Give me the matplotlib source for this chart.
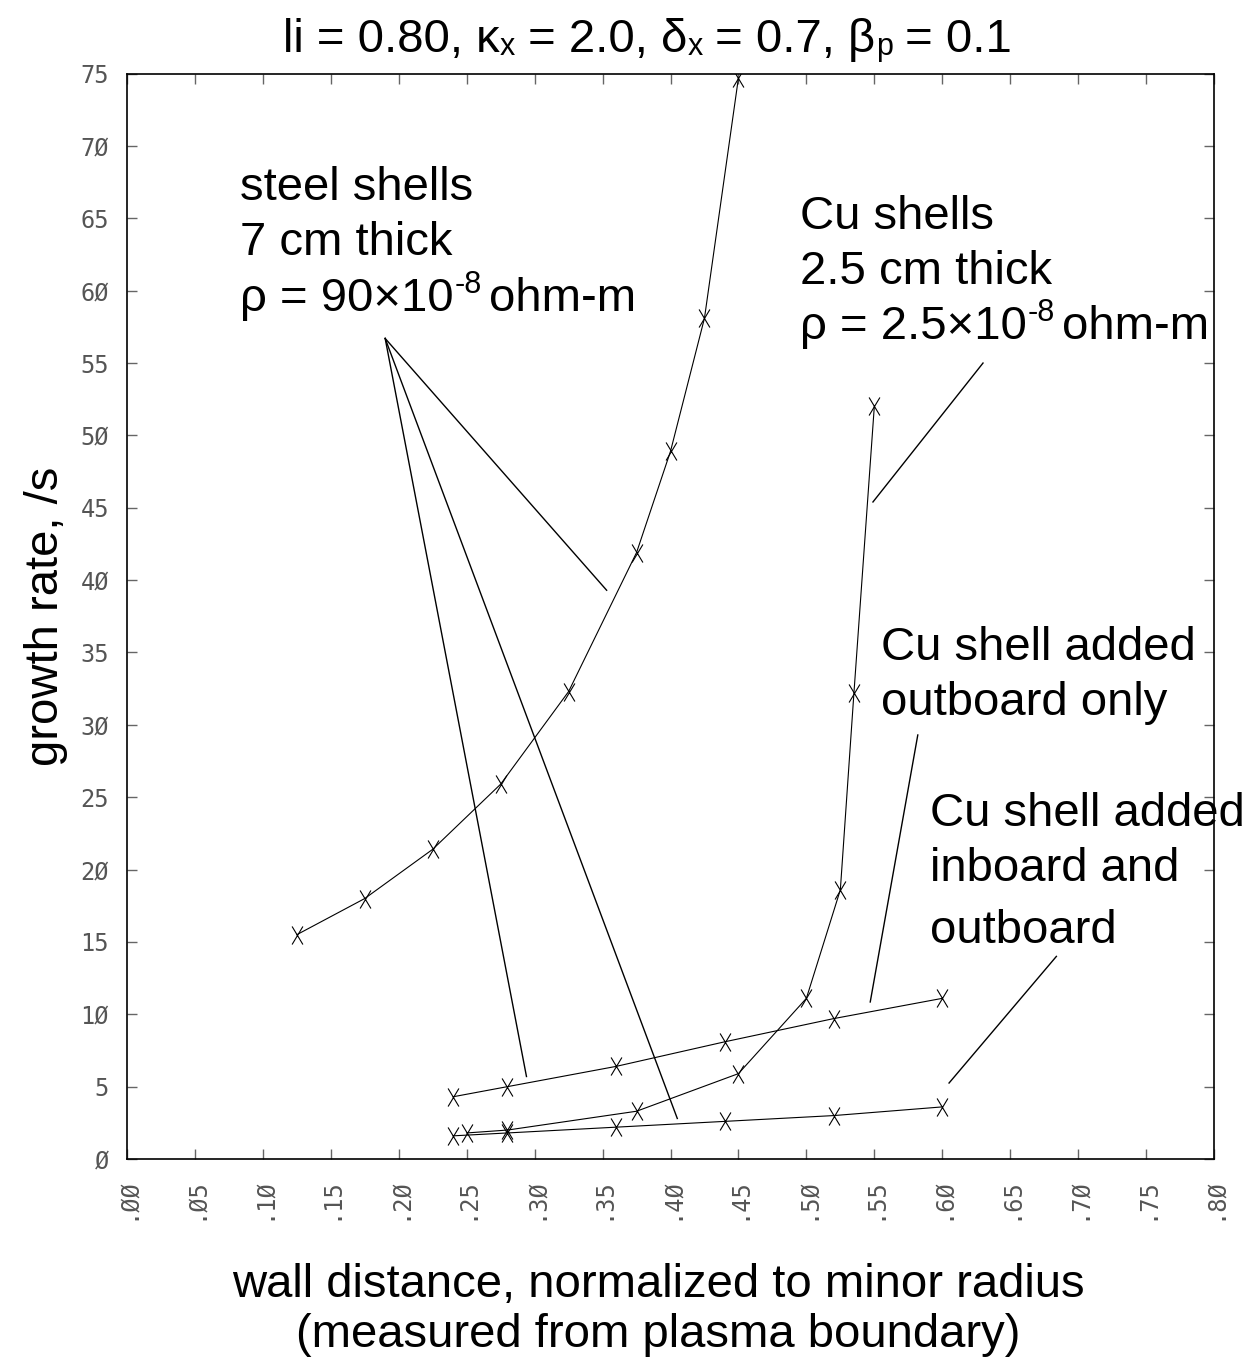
import numpy as np
import matplotlib
matplotlib.use("Agg")
import matplotlib.pyplot as plt
from matplotlib.path import Path
from matplotlib.text import Annotation
from matplotlib.ticker import FixedLocator, FuncFormatter

plt.rcParams['font.family'] = ['Liberation Sans', 'DejaVu Sans']

# growth rate (/s) vs wall distance (normalized to minor radius)
steel_d = [0.125, 0.175, 0.225, 0.275, 0.325, 0.375, 0.40, 0.425, 0.45]
steel_g = [15.5, 18.0, 21.4, 25.9, 32.3, 41.9, 48.9, 58.1, 74.7]

cu_d = [0.25, 0.28, 0.375, 0.45, 0.50, 0.525, 0.535, 0.55]
cu_g = [1.8, 2.0, 3.3, 5.9, 11.1, 18.6, 32.2, 52.0]

outb_d = [0.24, 0.28, 0.36, 0.44, 0.52, 0.60]
outb_g = [4.3, 5.0, 6.4, 8.1, 9.7, 11.1]

inout_d = [0.24, 0.28, 0.36, 0.44, 0.52, 0.60]
inout_g = [1.6, 1.8, 2.2, 2.6, 3.0, 3.6]

xticks = np.arange(0, 0.81, 0.05)
yticks = np.arange(0, 76, 5)

# tall narrow "X" marker
xmark = Path([(-0.6, -1), (0.6, 1), (-0.6, 1), (0.6, -1)],
             [Path.MOVETO, Path.LINETO, Path.MOVETO, Path.LINETO])

fig = plt.figure(figsize=(12.59, 13.59), dpi=100)
ax = fig.add_axes([127/1259, 1 - 1159/1359, (1214-127)/1259, (1159-73.6)/1359])

for d, g in [(steel_d, steel_g), (cu_d, cu_g), (outb_d, outb_g), (inout_d, inout_g)]:
    ax.plot(d, g, color='black', lw=0.8, marker=xmark, ms=13, mew=0.8,
            mfc='none', mec='black')

ax.set_xlim(0, 0.8)
ax.set_ylim(0, 75)

def slashed(s):
    return s.replace('0', '\u00d8')

ax.xaxis.set_major_locator(FixedLocator(xticks))
ax.yaxis.set_major_locator(FixedLocator(yticks))
ax.xaxis.set_major_formatter(FuncFormatter(lambda v, p: slashed(f"{v:.2f}"[1:])))
ax.yaxis.set_major_formatter(FuncFormatter(lambda v, p: slashed(f"{v:.0f}")))
ax.tick_params(direction='in', length=7, width=1.0, color='#666666',
               top=True, right=True, labelsize=17, labelcolor='#555555', pad=13)
for lab in ax.get_xticklabels():
    lab.set_rotation(90)
    lab.set_family('DejaVu Sans Mono')
for lab in ax.get_yticklabels():
    lab.set_family('DejaVu Sans Mono')
for sp in ax.spines.values():
    sp.set_linewidth(1.2)

ax.set_ylabel('growth rate, /s', fontsize=34, labelpad=9)

fig.text(658/1259, 1 - 1285/1359, 'wall distance, normalized to minor radius',
         ha='center', va='center', fontsize=34)
fig.text(658/1259, 1 - 1335/1359, '(measured from plasma boundary)',
         ha='center', va='center', fontsize=34)


def chain_fig(x, y, pieces):
    """Lay text pieces (text, size) side by side on one baseline."""
    base = fig.text(x, y, pieces[0][0], fontsize=pieces[0][1], ha='left', va='bottom')
    prev = base
    for s, size in pieces[1:]:
        prev = fig.add_artist(Annotation(
            s, xy=(1, 0), xycoords=(prev, base), xytext=(0, 0),
            textcoords='offset points', fontsize=size, ha='left', va='bottom'))
    return base


# title with small inline subscripts
big, small = 34, 22
chain_fig(283/1259, 1 - 62/1359, [
    ('li = 0.80, κ', big), ('x', small),
    (' = 2.0, δ', big), ('x', small),
    (' = 0.7, β', big), ('p', small),
    (' = 0.1', big)])


def note(x, y, s):
    return ax.text(x, y, s, fontsize=34, ha='left', va='bottom')


def rho_note(x, y, mant):
    base = note(x, y, 'ρ = ' + mant + '×10')
    sup = ax.annotate('-8', xy=(1, 0), xycoords=(base, base), xytext=(1, 15),
                      textcoords='offset points', fontsize=22, ha='left', va='bottom')
    ax.annotate('ohm-m', xy=(1, 0), xycoords=(sup, base), xytext=(5, 0),
                textcoords='offset points', fontsize=34, ha='left', va='bottom')


# annotation blocks (x, bottom y in data units)
note(0.083, 65.6, 'steel shells')
note(0.083, 61.8, '7 cm thick')
rho_note(0.083, 57.9, '90')

note(0.495, 63.6, 'Cu shells')
note(0.495, 59.8, '2.5 cm thick')
rho_note(0.495, 56.0, '2.5')

note(0.555, 33.8, 'Cu shell added')
note(0.555, 30.0, 'outboard only')

note(0.591, 22.3, 'Cu shell added')
note(0.591, 18.5, 'inboard and')
note(0.591, 14.2, 'outboard')

# pointer lines
pointers = [
    ((0.190, 56.7), (0.353, 39.3)),
    ((0.190, 56.7), (0.294, 5.7)),
    ((0.190, 56.7), (0.405, 2.8)),
    ((0.630, 55.0), (0.549, 45.4)),
    ((0.582, 29.3), (0.547, 10.85)),
    ((0.684, 14.0), (0.605, 5.25)),
]
for (x0, y0), (x1, y1) in pointers:
    ax.plot([x0, x1], [y0, y1], color='black', lw=1.0)

fig.savefig('out.png', dpi=100)
